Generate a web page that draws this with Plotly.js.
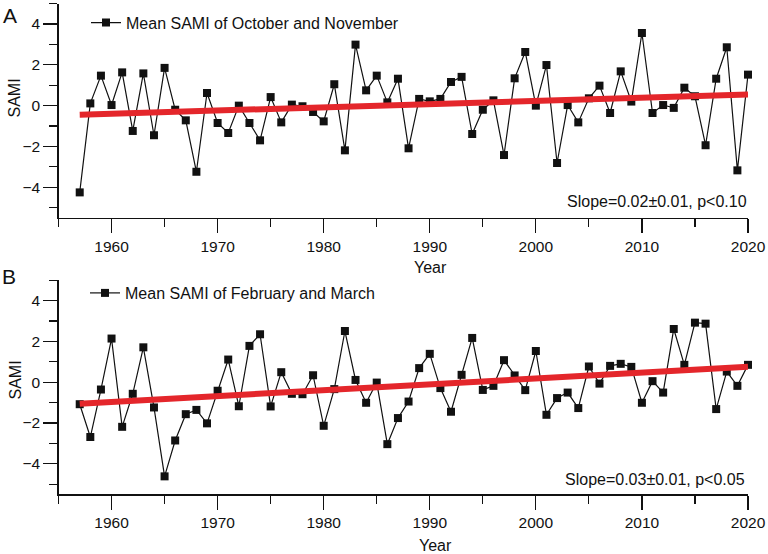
<!DOCTYPE html>
<html>
<head>
<meta charset="utf-8">
<script src="https://cdn.plot.ly/plotly-3.0.1.min.js"></script>
<style>html,body{margin:0;padding:0;background:#fff;}#chart{width:768px;height:554px;}</style>
</head>
<body>
<div id="chart"></div>
<script>
// ---- Data ----
const years = [1957,1958,1959,1960,1961,1962,1963,1964,1965,1966,
               1967,1968,1969,1970,1971,1972,1973,1974,1975,1976,
               1977,1978,1979,1980,1981,1982,1983,1984,1985,1986,
               1987,1988,1989,1990,1991,1992,1993,1994,1995,1996,
               1997,1998,1999,2000,2001,2002,2003,2004,2005,2006,
               2007,2008,2009,2010,2011,2012,2013,2014,2015,2016,
               2017,2018,2019,2020];

const samiOctNov = [-4.25,0.11,1.47,0.03,1.63,-1.24,1.58,-1.45,1.85,-0.20,
                    -0.72,-3.24,0.62,-0.85,-1.34,0.00,-0.85,-1.70,0.42,-0.82,
                    0.05,-0.03,-0.31,-0.77,1.05,-2.19,2.99,0.75,1.47,0.16,
                    1.32,-2.09,0.33,0.21,0.33,1.16,1.41,-1.39,-0.20,0.26,
                    -2.42,1.34,2.63,0.00,1.99,-2.81,0.03,-0.82,0.36,0.98,
                    -0.36,1.68,0.20,3.56,-0.36,0.03,-0.11,0.88,0.46,-1.94,
                    1.32,2.86,-3.17,1.52];

const samiFebMar = [-1.08,-2.69,-0.36,2.14,-2.19,-0.57,1.71,-1.24,-4.62,-2.86,
                    -1.57,-1.36,-2.02,-0.42,1.11,-1.18,1.78,2.35,-1.19,0.49,
                    -0.57,-0.59,0.34,-2.14,-0.34,2.51,0.11,-1.01,-0.02,-3.04,
                    -1.76,-0.95,0.69,1.39,-0.29,-1.45,0.36,2.17,-0.38,-0.18,
                    1.08,0.33,-0.39,1.53,-1.60,-0.78,-0.51,-1.27,0.77,-0.07,
                    0.80,0.90,0.75,-1.01,0.05,-0.51,2.61,0.85,2.92,2.87,
                    -1.32,0.52,-0.18,0.85];

const seriesNames = ["Mean SAMI of October and November", "Mean SAMI of February and March"];
const slopeTexts = ["Slope=0.02\u00b10.01, p<0.10", "Slope=0.03\u00b10.01, p<0.05"];
const panelLabels = ["A", "B"];
const yTickVals = [-4, -2, 0, 2, 4];
const xTickVals = [1960, 1970, 1980, 1990, 2000, 2010, 2020];

// ---- Linear fit (ordinary least squares) ----
function fit(x, y) {
  const n = x.length;
  let sx = 0, sy = 0, sxx = 0, sxy = 0;
  for (let i = 0; i < n; i++) { sx += x[i]; sy += y[i]; sxx += x[i]*x[i]; sxy += x[i]*y[i]; }
  const b = (n*sxy - sx*sy) / (n*sxx - sx*sx);
  const a = (sy - b*sx) / n;
  const x0 = x[0], x1 = x[n-1];
  return {x: [x0, x1], y: [a + b*x0, a + b*x1]};
}
const fitA = fit(years, samiOctNov);
const fitB = fit(years, samiFebMar);

const FONT = "Arial, 'Liberation Sans', sans-serif";
const black = "#111111";
const red = "#e4262b";

const traces = [
  {x: years, y: samiOctNov, xaxis: "x", yaxis: "y", type: "scatter", mode: "lines+markers",
   name: seriesNames[0], legend: "legend", cliponaxis: false,
   line: {color: black, width: 1.2}, marker: {symbol: "square", size: 8, color: black}},
  {x: fitA.x, y: fitA.y, xaxis: "x", yaxis: "y", type: "scatter", mode: "lines",
   showlegend: false, cliponaxis: false, line: {color: red, width: 6}, hoverinfo: "skip"},
  {x: years, y: samiFebMar, xaxis: "x2", yaxis: "y2", type: "scatter", mode: "lines+markers",
   name: seriesNames[1], legend: "legend2", cliponaxis: false,
   line: {color: black, width: 1.2}, marker: {symbol: "square", size: 8, color: black}},
  {x: fitB.x, y: fitB.y, xaxis: "x2", yaxis: "y2", type: "scatter", mode: "lines",
   showlegend: false, cliponaxis: false, line: {color: red, width: 6}, hoverinfo: "skip"}
];

function xAxis(anchor) {
  return {
    domain: [58.5/768, 748/768], anchor: anchor, range: [1955, 2020],
    tickmode: "array", tickvals: xTickVals, ticks: "outside", ticklen: 14, tickwidth: 1.2,
    tickcolor: black, showline: true, linecolor: black, linewidth: 1.2,
    showgrid: false, zeroline: false, tickfont: {family: FONT, size: 15.5, color: black},
    minor: {tickmode: "linear", tick0: 1955, dtick: 5, ticks: "outside", ticklen: 8, tickwidth: 1.2, tickcolor: black, showgrid: false}
  };
}
function yAxis(anchor, dom) {
  return {
    domain: dom, anchor: anchor, range: [-5.5, 5],
    tickmode: "array", tickvals: yTickVals, ticks: "outside", ticklen: 14, tickwidth: 1.2,
    tickcolor: black, showline: true, linecolor: black, linewidth: 1.2,
    showgrid: false, zeroline: false, tickfont: {family: FONT, size: 15.5, color: black},
    minor: {tickmode: "linear", tick0: -5, dtick: 2, ticks: "outside", ticklen: 8, tickwidth: 1.2, tickcolor: black, showgrid: false}
  };
}

const annFont = {family: FONT, size: 16, color: black};
const layout = {
  width: 768, height: 554, margin: {l: 0, r: 0, t: 0, b: 0},
  paper_bgcolor: "#ffffff", plot_bgcolor: "#ffffff",
  font: {family: FONT, color: black},
  xaxis: xAxis("y"), yaxis: yAxis("x", [336.1/554, 550.4/554]),
  xaxis2: xAxis("y2"), yaxis2: yAxis("x2", [59.7/554, 273.75/554]),
  legend: {x: 86/768, y: 1 - 22.7/554, xanchor: "left", yanchor: "middle", bgcolor: "rgba(0,0,0,0)",
           font: {family: FONT, size: 16, color: black}},
  legend2: {x: 85/768, y: 1 - 293/554, xanchor: "left", yanchor: "middle", bgcolor: "rgba(0,0,0,0)",
           font: {family: FONT, size: 16, color: black}},
  annotations: [
    {text: panelLabels[0], xref: "paper", yref: "paper", x: 9.5/768, y: 1 - 15/554, showarrow: false,
     xanchor: "center", yanchor: "middle", font: {family: FONT, size: 21, color: black}},
    {text: panelLabels[1], xref: "paper", yref: "paper", x: 9/768, y: 1 - 276/554, showarrow: false,
     xanchor: "center", yanchor: "middle", font: {family: FONT, size: 21, color: black}},
    {text: "SAMI", xref: "paper", yref: "paper", x: 14.5/768, y: 1 - 98/554, textangle: -90, showarrow: false,
     xanchor: "center", yanchor: "middle", font: annFont},
    {text: "SAMI", xref: "paper", yref: "paper", x: 14.5/768, y: 1 - 380/554, textangle: -90, showarrow: false,
     xanchor: "center", yanchor: "middle", font: annFont},
    {text: "Year", xref: "paper", yref: "paper", x: 430/768, y: 1 - 267/554, showarrow: false,
     xanchor: "center", yanchor: "middle", font: annFont},
    {text: "Year", xref: "paper", yref: "paper", x: 435/768, y: 1 - 545/554, showarrow: false,
     xanchor: "center", yanchor: "middle", font: annFont},
    {text: slopeTexts[0], xref: "paper", yref: "paper", x: 749/768, y: 1 - 201/554, showarrow: false,
     xanchor: "right", yanchor: "middle", font: annFont},
    {text: slopeTexts[1], xref: "paper", yref: "paper", x: 747/768, y: 1 - 479/554, showarrow: false,
     xanchor: "right", yanchor: "middle", font: annFont}
  ]
};

Plotly.newPlot("chart", traces, layout, {staticPlot: true, displayModeBar: false});
</script>
</body>
</html>
